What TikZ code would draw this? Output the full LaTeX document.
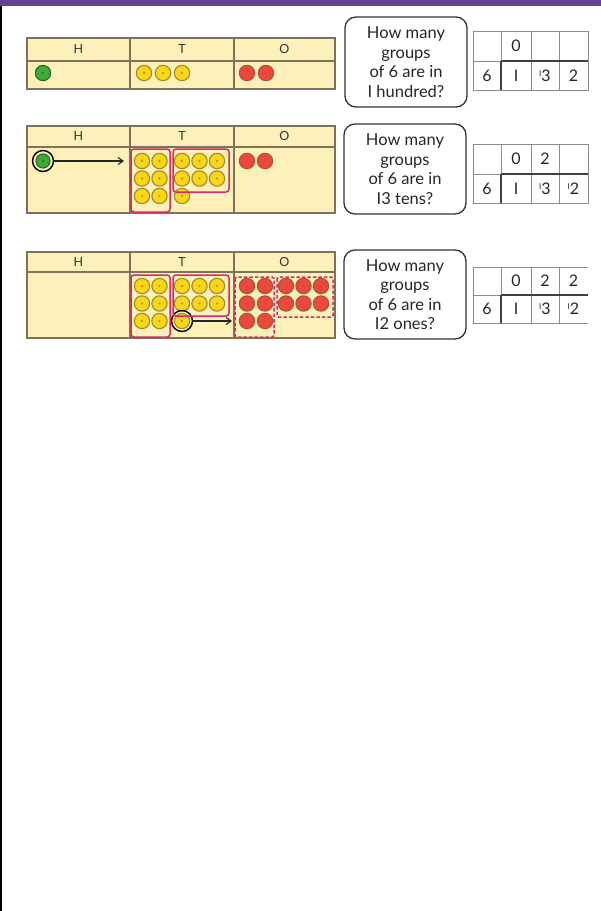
\documentclass[tikz,border=0pt]{standalone}
\usepackage{fontspec}
\setmainfont{Lato}
\usetikzlibrary{arrows.meta}
\definecolor{barpurple}{RGB}{100,66,143}
\definecolor{tabfill}{RGB}{253,240,185}
\definecolor{tabline}{RGB}{125,115,90}
\definecolor{cyel}{RGB}{250,214,25}
\definecolor{cyelring}{RGB}{160,138,40}
\definecolor{cred}{RGB}{236,72,60}
\definecolor{credring}{RGB}{168,82,62}
\definecolor{cgreen}{RGB}{62,168,58}
\definecolor{cgreenring}{RGB}{38,105,40}
\definecolor{grppink}{RGB}{218,40,112}
\definecolor{gridgray}{RGB}{140,140,140}
\begin{document}
\begin{tikzpicture}[x=1pt,y=-1pt,
  tbl/.style={fill=tabfill,draw=tabline,line width=1.3pt},
  tline/.style={draw=tabline,line width=1.3pt},
  hdr/.style={font=\fontsize{12.5}{12.5}\selectfont,text=black!80},
  cnt/.style={circle,inner sep=0pt,minimum size=15.3pt,line width=1.1pt},
  ycnt/.style={cnt,fill=cyel,draw=cyelring,path picture={\fill[cyelring] (path picture bounding box.center) circle (1.1pt);}},
  rcnt/.style={cnt,fill=cred,draw=credring,path picture={\fill[credring!70!cred] (path picture bounding box.center) circle (0.9pt);}},
  gcnt/.style={cnt,fill=cgreen,draw=cgreenring,path picture={\fill[cgreenring] (path picture bounding box.center) circle (1.1pt);}},
  ring/.style={circle,draw=black,line width=1.4pt,inner sep=0pt,minimum size=21pt},
  grp/.style={draw=grppink,line width=1.5pt,rounded corners=3pt},
  dgrp/.style={draw=grppink,line width=1.5pt,dashed,dash pattern=on 3.5pt off 2pt,rounded corners=1.5pt},
  arr/.style={draw=black!85,line width=1.1pt,-{Straight Barb[length=5pt,width=7pt]}},
  qbox/.style={draw=black!80,line width=1.3pt,rounded corners=11pt,minimum width=122pt,align=center,inner sep=0pt,font=\fontsize{16.5}{19.5}\selectfont,text=black!85},
  gline/.style={draw=gridgray,line width=0.8pt},
  bline/.style={draw=black!75,line width=1.1pt},
  dig/.style={font=\fontsize{16}{16}\selectfont,text=black!85,inner sep=0pt}
]
\useasboundingbox (0,0) rectangle (601,911);
\fill[white] (0,0) rectangle (601,911);
\fill[barpurple] (0,0) rectangle (601,6);
\fill[black] (0,6) rectangle (1.5,911);

% ---------- Row 1 ----------
\draw[tbl] (27,38) rectangle (335,89);
\draw[tline] (27,61) -- (335,61) (130,38) -- (130,89) (234,38) -- (234,89);
\node[hdr] (h1H) at (78.5,49.5) {H};
\node[hdr] (h1T) at (182,49.5) {T};
\node[hdr] (h1O) at (284.5,49.5) {O};
\node[gcnt] (g1) at (43,73) {};
\foreach \x [count=\i] in {144,163,182} \node[ycnt] (y1-\i) at (\x,73) {};
\foreach \x [count=\i] in {247,266} \node[rcnt] (r1-\i) at (\x,73) {};

\node[qbox,minimum height=90pt] (q1) at (406,62) {How many\\groups\\of 6 are in\\I hundred?};

\draw[gline] (473,31) rectangle (588,90);
\draw[gline] (473,61) -- (501,61) (501,31) -- (501,61) (531,31) -- (531,90) (559,31) -- (559,90);
\draw[bline] (501,61) -- (588,61) (501,61) -- (501,90);
\node[dig] (d1a) at (516,46) {0};
\node[dig] (d1b) at (487,76) {6};
\node[dig] (d1c) at (516,76) {I};
\node[dig] (d1d) at (545,76) {\raisebox{0.32em}{\fontsize{8}{8}\selectfont I}3};
\node[dig] (d1e) at (573.5,76) {2};

% ---------- Row 2 ----------
\draw[tbl] (27,126) rectangle (335,213);
\draw[tline] (27,147) -- (335,147) (130,126) -- (130,213) (234,126) -- (234,213);
\node[hdr] (h2H) at (78.5,136.5) {H};
\node[hdr] (h2T) at (182,136.5) {T};
\node[hdr] (h2O) at (284.5,136.5) {O};
\node[gcnt,minimum size=14pt] (g2) at (43,161) {};
\node[ring] (ring2) at (43,161) {};
\coordinate (a2end) at (124,161);
\draw[arr] (ring2.east) -- (a2end);
\foreach \y [count=\j] in {161,178.5,196} \foreach \x [count=\i] in {142,159.5} \node[ycnt] (y2a-\i-\j) at (\x,\y) {};
\foreach \y [count=\j] in {161,178.5} \foreach \x [count=\i] in {182,199.5,217} \node[ycnt] (y2b-\i-\j) at (\x,\y) {};
\node[ycnt] (y2c) at (182,196) {};
\draw[grp] (131,149) rectangle (170,212);
\draw[grp] (173,149) rectangle (229,192);
\foreach \x [count=\i] in {247,265} \node[rcnt] (r2-\i) at (\x,161) {};

\node[qbox,minimum height=90pt] (q2) at (405,169) {How many\\groups\\of 6 are in\\I3 tens?};

\draw[gline] (473,144) rectangle (588,203);
\draw[gline] (473,174) -- (501,174) (501,144) -- (501,174) (531,144) -- (531,203) (559,144) -- (559,203);
\draw[bline] (501,174) -- (588,174) (501,174) -- (501,203);
\node[dig] (d2a) at (516,159) {0};
\node[dig] (d2b) at (545,159) {2};
\node[dig] (d2c) at (487,189) {6};
\node[dig] (d2d) at (516,189) {I};
\node[dig] (d2e) at (545,189) {\raisebox{0.32em}{\fontsize{8}{8}\selectfont I}3};
\node[dig] (d2f) at (573.5,189) {\raisebox{0.32em}{\fontsize{8}{8}\selectfont I}2};

% ---------- Row 3 ----------
\draw[tbl] (27,252) rectangle (335,338);
\draw[tline] (27,272) -- (335,272) (130,252) -- (130,338) (234,252) -- (234,338);
\node[hdr] (h3H) at (78.5,262) {H};
\node[hdr] (h3T) at (182,262) {T};
\node[hdr] (h3O) at (284.5,262) {O};
\foreach \y [count=\j] in {286,303.5,321} \foreach \x [count=\i] in {142,159.5} \node[ycnt] (y3a-\i-\j) at (\x,\y) {};
\foreach \y [count=\j] in {286,303.5} \foreach \x [count=\i] in {182,199.5,217} \node[ycnt] (y3b-\i-\j) at (\x,\y) {};
\node[ycnt] (y3c) at (182,321) {};
\node[ring] (ring3) at (182,321) {};
\draw[grp] (131,275) rectangle (170,337);
\draw[grp] (173,275) rectangle (229,316);
\coordinate (a3end) at (232,321);
\draw[arr] (ring3.east) -- (a3end);
\foreach \y [count=\j] in {286,303.5,321} \foreach \x [count=\i] in {247,265} \node[rcnt] (r3a-\i-\j) at (\x,\y) {};
\foreach \y [count=\j] in {286,303.5} \foreach \x [count=\i] in {286,303.5,321} \node[rcnt] (r3b-\i-\j) at (\x,\y) {};
\draw[dgrp] (235,277) rectangle (274,337);
\draw[dgrp] (277,277) rectangle (333,317);

\node[qbox,minimum height=89pt] (q3) at (405,294.5) {How many\\groups\\of 6 are in\\I2 ones?};

\draw[gline] (588,267) -- (473,267) -- (473,323) -- (588,323);
\draw[gline] (473,295) -- (501,295) (501,267) -- (501,295) (531,267) -- (531,323) (559,267) -- (559,323);
\draw[bline] (501,295) -- (588,295) (501,295) -- (501,323);
\node[dig] (d3a) at (516,281) {0};
\node[dig] (d3b) at (545,281) {2};
\node[dig] (d3c) at (573.5,281) {2};
\node[dig] (d3d) at (487,309) {6};
\node[dig] (d3e) at (516,309) {I};
\node[dig] (d3f) at (545,309) {\raisebox{0.32em}{\fontsize{8}{8}\selectfont I}3};
\node[dig] (d3g) at (573.5,309) {\raisebox{0.32em}{\fontsize{8}{8}\selectfont I}2};
\end{tikzpicture}
\end{document}
